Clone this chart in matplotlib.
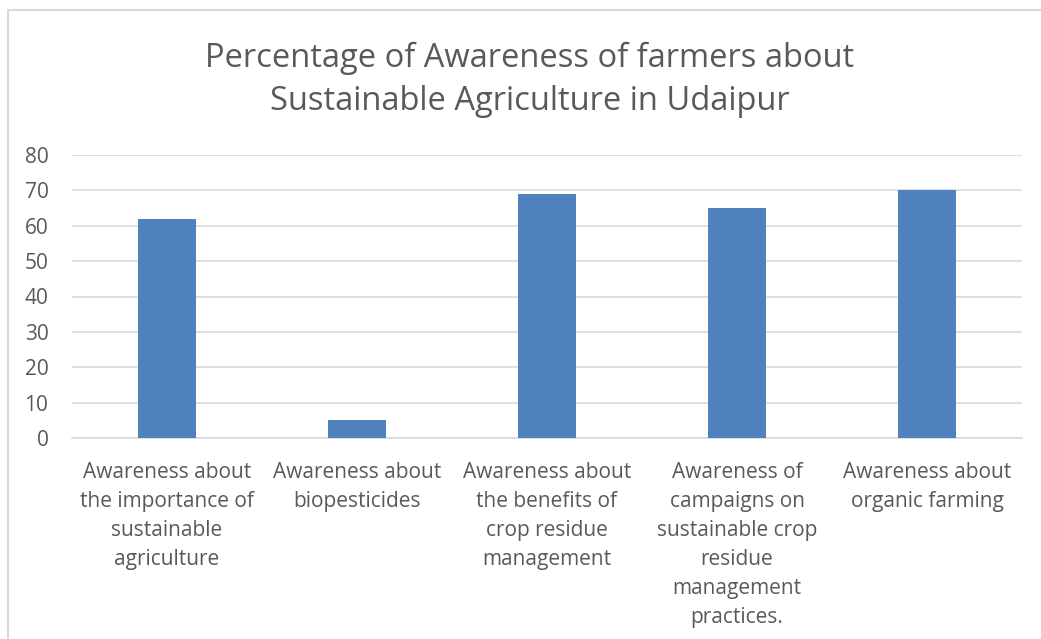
import matplotlib.pyplot as plt
from matplotlib.patches import Rectangle

categories = [
    "Awareness about\nthe importance of\nsustainable\nagriculture",
    "Awareness about\nbiopesticides",
    "Awareness about\nthe benefits of\ncrop residue\nmanagement",
    "Awareness of\ncampaigns on\nsustainable crop\nresidue\nmanagement\npractices.",
    "Awareness about\norganic farming",
]
values = [62, 5, 69, 65, 70]
yticks = [0, 10, 20, 30, 40, 50, 60, 70, 80]

plt.rcParams['font.family'] = ['Open Sans', 'DejaVu Sans']
text_color = '#595959'
grid_color = '#D9D9D9'

W, H = 1041, 639
fig = plt.figure(figsize=(W / 100, H / 100), dpi=100)
ax = fig.add_axes([72 / W, 1 - 438 / H, (1022 - 72) / W, (438 - 155) / H])

x = range(len(values))
ax.bar(x, values, width=0.31, color='#4F81BD', zorder=3)

ax.set_xlim(-0.5, len(values) - 0.5)
ax.set_ylim(0, 80)
ax.set_yticks(yticks)
ax.set_xticks(list(x))
ax.set_xticklabels(categories, fontsize=15, color=text_color, linespacing=1.5)
ax.tick_params(axis='y', labelsize=15, labelcolor=text_color, length=0, pad=17)
ax.tick_params(axis='x', length=0, pad=17)
ax.yaxis.grid(True, color=grid_color, linewidth=1.2, zorder=0)
for s in ['top', 'right', 'left']:
    ax.spines[s].set_visible(False)
ax.spines['bottom'].set_color(grid_color)
ax.spines['bottom'].set_linewidth(1.2)

fig.text(530 / W, 1 - 80 / H, "Percentage of Awareness of farmers about\nSustainable Agriculture in Udaipur",
         ha='center', va='center', fontsize=23.5, color=text_color, linespacing=1.4)

fig.patches.append(Rectangle((8 / W, -0.05), 1.1, 1 - 10 / H + 0.05, transform=fig.transFigure,
                             fill=False, edgecolor=grid_color, linewidth=1.5))

fig.savefig('out.png', dpi=100)
